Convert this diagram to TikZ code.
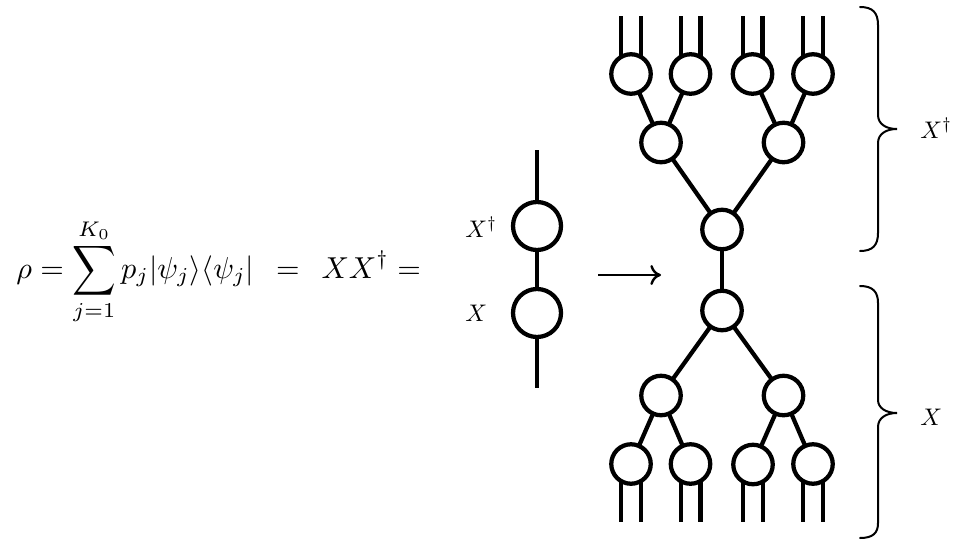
\documentclass[tikz,border=0pt]{standalone}
\usepackage{graphicx}
\usetikzlibrary{arrows.meta}
\newcommand{\bigsumop}{\mathop{\vcenter{\hbox{\scalebox{1}[1.15]{$\displaystyle\sum$}}}}\limits}
\begin{document}
\begin{tikzpicture}[x=0.75pt,y=-0.75pt,
  tn/.style={circle,draw,line width=3.2pt,minimum size=29.6pt,inner sep=0pt,outer sep=0pt},
  cn/.style={circle,draw,line width=3.2pt,minimum size=36pt,inner sep=0pt,outer sep=0pt},
  wire/.style={line width=3.2pt},
  bracestyle/.style={line width=1.5pt,line cap=round},
  lbl/.style={inner sep=0pt,anchor=base west}]
\useasboundingbox (0,0) rectangle (959,542);

% equation
\node[anchor=west,inner sep=0pt] (eq) at (16,272)
  {\scalebox{2.27}{$\displaystyle \rho = \bigsumop_{j=1}^{K_0} p_j |\psi_j\rangle\langle\psi_j| \;\,=\;\, XX^\dagger =$}};

% chain
\coordinate (ctop) at (537,150);
\coordinate (cbot) at (537,388);
\node[cn] (cx1) at (537,226) {};
\node[cn] (cx2) at (537,313) {};
\draw[wire] (ctop) -- (cx1);
\draw[wire] (cx1) -- (cx2);
\draw[wire] (cx2) -- (cbot);
\node[lbl] (lxd) at (465,237) {\scalebox{1.8}{$X^\dagger$}};
\node[lbl] (lx) at (465,321) {\scalebox{1.8}{$X$}};

% arrow
\coordinate (a0) at (598,275);
\coordinate (a1) at (661,275);
\draw[line width=1.8pt,-{Computer Modern Rightarrow[length=8pt,width=15pt]}] (a0) -- (a1);

% top tree
\coordinate (topy) at (0,16);
\coordinate (boty) at (0,522);
\node[tn] (t1) at (631,74) {};
\node[tn] (t2) at (690.5,74) {};
\node[tn] (t3) at (752.5,74) {};
\node[tn] (t4) at (813,74) {};
\node[tn] (tm1) at (661,142.5) {};
\node[tn] (tm2) at (783.5,142.5) {};
\node[tn] (tr) at (722,229.5) {};
% bottom tree
\node[tn] (br) at (722,310.5) {};
\node[tn] (bm1) at (661,395.5) {};
\node[tn] (bm2) at (783.5,395.5) {};
\node[tn] (b1) at (631,464) {};
\node[tn] (b2) at (690.5,464) {};
\node[tn] (b3) at (753,464.5) {};
\node[tn] (b4) at (813,464) {};

\foreach \n in {t1,t2,t3,t4} {
  \draw[wire] (\n.120) -- (\n.120 |- topy);
  \draw[wire] (\n.60) -- (\n.60 |- topy);
}
\foreach \n in {b1,b2,b3,b4} {
  \draw[wire] (\n.240) -- (\n.240 |- boty);
  \draw[wire] (\n.300) -- (\n.300 |- boty);
}
\draw[wire] (tm1) -- (t1);
\draw[wire] (tm1) -- (t2);
\draw[wire] (tm2) -- (t3);
\draw[wire] (tm2) -- (t4);
\draw[wire] (tr) -- (tm1);
\draw[wire] (tr) -- (tm2);
\draw[wire] (tr) -- (br);
\draw[wire] (br) -- (bm1);
\draw[wire] (br) -- (bm2);
\draw[wire] (bm1) -- (b1);
\draw[wire] (bm1) -- (b2);
\draw[wire] (bm2) -- (b3);
\draw[wire] (bm2) -- (b4);

% braces
\draw[bracestyle] (860,7) .. controls (873,7) and (878,13) .. (878,25) -- (878,115)
  .. controls (878,124) and (886,129) .. (897,129)
  .. controls (886,129) and (878,134) .. (878,143) -- (878,233)
  .. controls (878,245) and (873,251) .. (860,251);
\draw[bracestyle] (860,286) .. controls (873,286) and (878,292) .. (878,303) -- (878,400)
  .. controls (878,408) and (886,413) .. (897,413)
  .. controls (886,413) and (878,418) .. (878,427) -- (878,523)
  .. controls (878,533) and (873,538) .. (860,538);
\node[lbl] (bxd) at (920,138) {\scalebox{1.8}{$X^\dagger$}};
\node[lbl] (bx) at (920,425) {\scalebox{1.8}{$X$}};
\end{tikzpicture}
\end{document}
